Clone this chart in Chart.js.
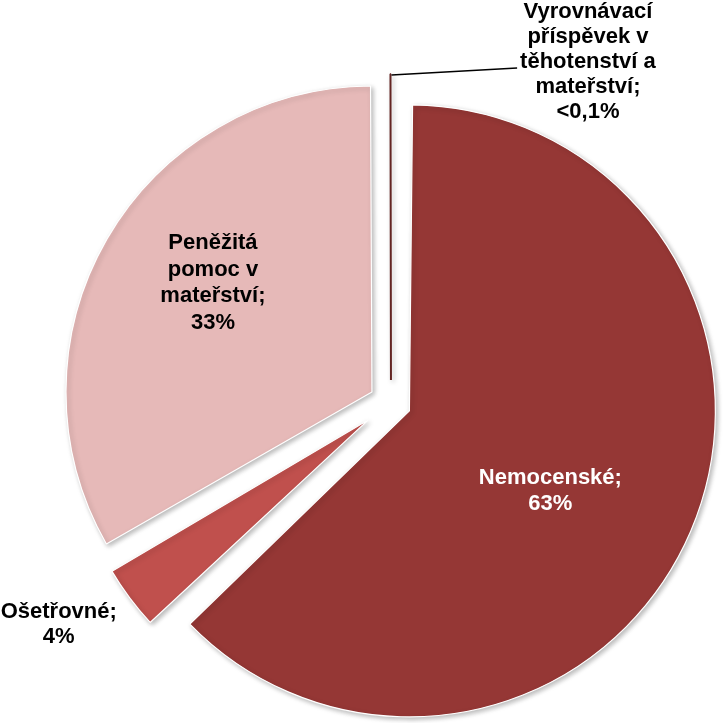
<!DOCTYPE html>
<html>
<head>
<meta charset="utf-8">
<script src="https://cdn.jsdelivr.net/npm/chart.js@4"></script>
<style>html,body{margin:0;padding:0;background:#fff;}canvas{display:block;}</style>
</head>
<body>
<canvas id="c" width="723" height="723"></canvas>
<script>
// ---- data ----
const categories = ['Nemocenské', 'Ošetřovné', 'Peněžitá pomoc v mateřství', 'Vyrovnávací příspěvek v těhotenství a mateřství'];
const shares = [62.9, 3.8, 33.25, 0.05];
const valueLabels = ['63%', '4%', '33%', '<0,1%'];

// ---- style ----
const colors = ['#953735', '#C0504D', '#E6B9B8', '#632523'];
const borderColors = ['#ffffff', '#ffffff', '#ffffff', '#632523'];
const sliceOffsets = [80, 116, 88, 92];
const sliceRadii = [306, 297, 306, 306];
const labelColors = ['#ffffff', '#000000', '#000000', '#000000'];
const labelShift = [[141, 80], [-309, 204], [-159, -109], [197, -318]];
const labelWrapWidth = [200, 200, 110, 150];
const FONT = 'bold 22px "Liberation Sans", Arial, sans-serif';
const LINE_H = [25.5, 25.5, 26.7, 25.2];

function wrap(ctx, text, maxW) {
  const words = text.split(' ');
  const lines = [];
  let cur = '';
  words.forEach(w => {
    const t = cur ? cur + ' ' + w : w;
    if (cur && ctx.measureText(t).width > maxW) { lines.push(cur); cur = w; }
    else cur = t;
  });
  if (cur) lines.push(cur);
  return lines;
}

const piePlugin = {
  id: 'piePlugin',
  beforeDatasetsDraw(chart) {
    const meta = chart.getDatasetMeta(0);
    meta.data.forEach((arc, i) => {
      const circ = arc.endAngle - arc.startAngle;
      const fix = 1 - Math.sin(Math.min(Math.PI, circ));
      arc.outerRadius = sliceRadii[i] - sliceOffsets[i] / 4 * fix;
    });
    const ctx = chart.ctx;
    ctx.save();
    ctx.shadowColor = 'rgba(0,0,0,0.28)';
    ctx.shadowBlur = 5;
    ctx.shadowOffsetX = 2;
    ctx.shadowOffsetY = 2;
  },
  afterDatasetsDraw(chart) {
    const ctx = chart.ctx;
    ctx.restore();
    const meta = chart.getDatasetMeta(0);
    ctx.save();
    ctx.font = FONT;
    ctx.textAlign = 'center';
    ctx.textBaseline = 'middle';
    meta.data.forEach((arc, i) => {
      const mid = (arc.startAngle + arc.endAngle) / 2;
      const t = sliceOffsets[i] / 4;
      const ax = arc.x + Math.cos(mid) * t;
      const ay = arc.y + Math.sin(mid) * t;
      const cx = ax + labelShift[i][0];
      const cy = ay + labelShift[i][1];
      const lines = wrap(ctx, categories[i] + ';', labelWrapWidth[i]);
      lines.push(valueLabels[i]);
      const lh = LINE_H[i];
      const y0 = cy - (lines.length - 1) * lh / 2;
      ctx.fillStyle = labelColors[i];
      lines.forEach((ln, k) => ctx.fillText(ln, cx, y0 + k * lh));
      if (i === 3) {
        // leader line from slice tip to label
        const r = sliceRadii[i];
        const px = ax + Math.cos(mid) * r;
        const py = ay + Math.sin(mid) * r;
        const lw = ctx.measureText(lines[2]).width;
        ctx.beginPath();
        ctx.moveTo(px + 1, py + 1);
        ctx.lineTo(cx - lw / 2 - 3, y0 + 2 * lh + 6);
        ctx.strokeStyle = '#000';
        ctx.lineWidth = 1.5;
        ctx.stroke();
      }
    });
    ctx.restore();
  }
};

new Chart(document.getElementById('c'), {
  type: 'pie',
  data: {
    labels: categories,
    datasets: [{
      data: shares,
      backgroundColor: colors,
      borderColor: borderColors,
      borderWidth: [1.2, 1.2, 1.2, 2],
      offset: sliceOffsets,
      clip: false
    }]
  },
  options: {
    responsive: false,
    animation: false,
    devicePixelRatio: 1,
    radius: 306,
    layout: { padding: { left: 59, right: 0, top: 83, bottom: 0 } },
    plugins: { legend: { display: false }, tooltip: { enabled: false } },
    events: []
  },
  plugins: [piePlugin]
});
</script>
</body>
</html>
